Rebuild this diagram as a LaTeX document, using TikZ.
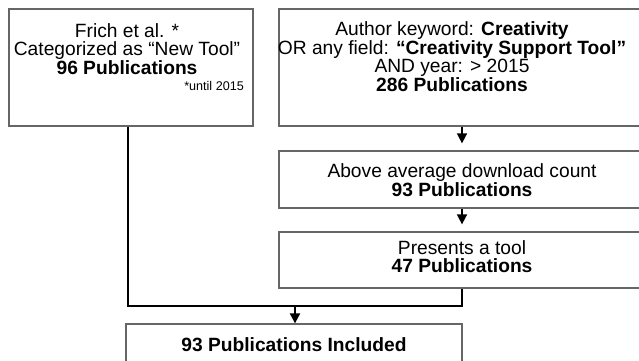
\documentclass[tikz,border=0pt]{standalone}
\usepackage{fontspec}
\setmainfont{Liberation Sans}
\usetikzlibrary{arrows.meta,calc}
\newcommand\boxtxtfont{\fontsize{19.2}{18.5}\selectfont\lineskiplimit=-20pt\relax}
\begin{document}
\begin{tikzpicture}[x=1pt,y=-1pt,
  box/.style={draw=black!60,line width=1.3pt,rectangle,inner sep=0pt},
  txt/.style={align=center,font=\boxtxtfont,inner sep=0pt},
  small/.style={font=\fontsize{12.6}{14}\selectfont,inner sep=0pt},
  conn/.style={line width=2pt,black},
  arr/.style={line width=1.7pt,black,-{Triangle[width=10pt,length=10pt]}},
]
\useasboundingbox (0,0) rectangle (639,360);
\clip (0,0) rectangle (639,360);
% boxes
\node[box,minimum width=244pt,minimum height=117pt] (b1) at (131,67.5) {};
\node[box,minimum width=366pt,minimum height=117pt] (b2) at (462,67.5) {};
\node[box,minimum width=366pt,minimum height=57pt] (b3) at (462,179.5) {};
\node[box,minimum width=366pt,minimum height=56pt] (b4) at (462,260) {};
\node[box,minimum width=336pt,minimum height=42pt] (b5) at (294,345) {};
% texts (base = baseline of the last line)
\node[txt,anchor=base] (t1) at (127,74) {Frich et al. *\\Categorized as “New Tool”\\\textbf{96 Publications}};
\node[small,anchor=base east] (t1s) at (244,90) {*until 2015};
\node[txt,anchor=base] (t2) at (452,91) {Author keyword: \textbf{Creativity}\\OR any field: \textbf{“Creativity Support Tool”}\\AND year: > 2015\\\textbf{286 Publications}};
\node[txt,anchor=base] (t3) at (462,196) {Above average download count\\\textbf{93 Publications}};
\node[txt,anchor=base] (t4) at (462,272.5) {Presents a tool\\\textbf{47 Publications}};
\node[txt,anchor=base] (t5) at (294,351) {\textbf{93 Publications Included}};
% connectors
\coordinate (jl) at (127.5,306);
\coordinate (jr) at (462,306);
\coordinate (jm) at (295,306);
\draw[arr,shorten >=7pt] (b2) -- (b3);
\draw[arr,shorten >=7pt] (b3) -- (b4);
\draw[conn] (b1.south -| jl) -- (jl) -- (jr) -- (b4.south);
\draw[arr,line width=2pt] (jm) -- (b5.north -| jm);
\end{tikzpicture}
\end{document}
